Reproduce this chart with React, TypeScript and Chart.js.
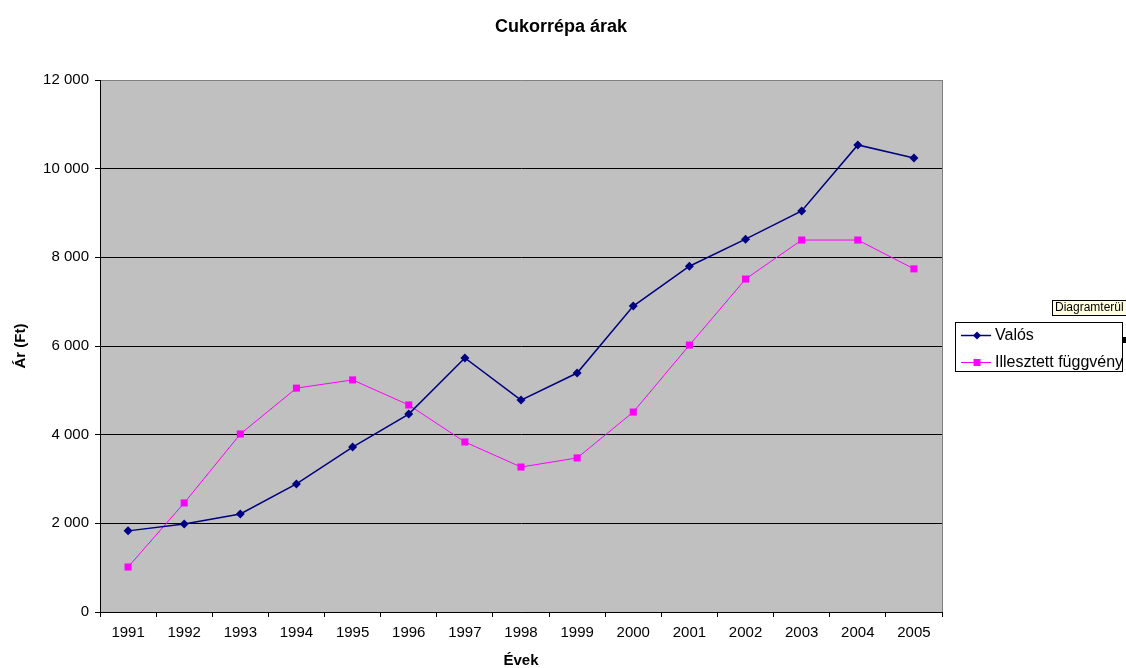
import { useEffect, useRef } from "react";
import { Chart, registerables } from "chart.js";

Chart.register(...registerables);

const years = ["1991", "1992", "1993", "1994", "1995", "1996", "1997", "1998", "1999", "2000", "2001", "2002", "2003", "2004", "2005"];
const valos = [1830, 1985, 2210, 2890, 3720, 4465, 5730, 4780, 5390, 6900, 7800, 8410, 9045, 10535, 10240];
const illesztett = [1015, 2460, 4015, 5050, 5235, 4670, 3835, 3270, 3475, 4510, 6020, 7510, 8390, 8390, 7740];
const seriesNames = ["Valós", "Illesztett függvény"];
const chartTitle = "Cukorrépa árak";
const xTitle = "Évek";
const yTitle = "Ár (Ft)";
const tooltipText = "Diagramterül";
const yMin = 0;
const yMax = 12000;
const yStep = 2000;

const FONT = "'Liberation Sans', Arial, sans-serif";
const NAVY = "#000080";
const MAGENTA = "#ff00ff";

function fmt(v: number): string {
  return String(v).replace(/\B(?=(\d{3})+(?!\d))/g, " ");
}

const decor = {
  id: "excelDecor",
  beforeDraw(chart: any) {
    const { ctx, chartArea: a } = chart;
    ctx.save();
    ctx.fillStyle = "#c0c0c0";
    ctx.fillRect(a.left, a.top, a.right - a.left, a.bottom - a.top);
    ctx.restore();
  },
  afterDraw(chart: any) {
    const { ctx, chartArea: a } = chart;
    ctx.save();
    // chart title, centred on the whole canvas
    ctx.fillStyle = "#000";
    ctx.font = `bold 18px ${FONT}`;
    ctx.textAlign = "center";
    ctx.textBaseline = "middle";
    ctx.fillText(chartTitle, 561, 27);

    // right border of plot area
    ctx.strokeStyle = "#808080";
    ctx.lineWidth = 1;
    ctx.beginPath();
    ctx.moveTo(Math.round(a.right) + 0.5, a.top);
    ctx.lineTo(Math.round(a.right) + 0.5, a.bottom);
    ctx.stroke();

    // legend box
    const bx = 955, by = 322, bw = 167, bh = 49;
    ctx.fillStyle = "#ffffff";
    ctx.fillRect(bx, by, bw, bh);
    ctx.strokeStyle = "#000000";
    ctx.strokeRect(bx + 0.5, by + 0.5, bw, bh);
    ctx.save();
    ctx.beginPath();
    ctx.rect(bx, by, bw, bh);
    ctx.clip();
    const rows = [
      { y: 335, color: NAVY, shape: "diamond", w: 1.5 },
      { y: 362, color: MAGENTA, shape: "square", w: 1 },
    ];
    rows.forEach((r, i) => {
      ctx.strokeStyle = r.color;
      ctx.lineWidth = r.w;
      ctx.beginPath();
      ctx.moveTo(961, r.y + 0.5);
      ctx.lineTo(991, r.y + 0.5);
      ctx.stroke();
      ctx.fillStyle = r.color;
      const cx = 977, cy = r.y + 0.5;
      if (r.shape === "diamond") {
        ctx.beginPath();
        ctx.moveTo(cx, cy - 4);
        ctx.lineTo(cx + 4, cy);
        ctx.lineTo(cx, cy + 4);
        ctx.lineTo(cx - 4, cy);
        ctx.closePath();
        ctx.fill();
      } else {
        ctx.fillRect(cx - 3.5, cy - 3.5, 7, 7);
      }
      ctx.fillStyle = "#000";
      ctx.font = `16px ${FONT}`;
      ctx.textBaseline = "middle";
      ctx.textAlign = "left";
      ctx.fillText(seriesNames[i], 995, r.y + 0.5);
    });
    ctx.restore();

    // tooltip
    ctx.fillStyle = "#ffffe1";
    ctx.fillRect(1052, 300, 80, 15);
    ctx.strokeStyle = "#000";
    ctx.lineWidth = 1;
    ctx.strokeRect(1052.5, 300.5, 80, 15);
    ctx.fillStyle = "#000";
    ctx.font = `12px ${FONT}`;
    ctx.textBaseline = "middle";
    ctx.textAlign = "left";
    ctx.fillText(tooltipText, 1055, 308);

    // small handle square
    ctx.fillStyle = "#000";
    ctx.fillRect(1122, 337, 4, 6);
    ctx.restore();
  },
};

export default function App() {
  const ref = useRef<HTMLCanvasElement | null>(null);
  useEffect(() => {
    if (!ref.current) return;
    const chart = new Chart(ref.current, {
      type: "line",
      data: {
        labels: years,
        datasets: [
          {
            label: seriesNames[0],
            data: valos,
            borderColor: NAVY,
            backgroundColor: NAVY,
            borderWidth: 1.5,
            pointStyle: "rectRot",
            pointRadius: 4.5,
            pointBorderWidth: 0,
            tension: 0,
          },
          {
            label: seriesNames[1],
            data: illesztett,
            borderColor: MAGENTA,
            backgroundColor: MAGENTA,
            borderWidth: 1,
            pointStyle: "rect",
            pointRadius: 5,
            pointBorderWidth: 0,
            tension: 0,
          },
        ],
      },
      options: {
        responsive: false,
        animation: false,
        layout: { padding: { left: 0, right: 184, top: 80, bottom: 0 } },
        plugins: {
          legend: { display: false },
          tooltip: { enabled: false },
          title: { display: false },
        },
        scales: {
          x: {
            type: "category",
            offset: true,
            grid: {
              offset: true,
              drawOnChartArea: false,
              drawTicks: true,
              tickLength: 5,
              color: "#000",
            },
            border: { display: true, color: "#000" },
            ticks: {
              color: "#000",
              font: { family: FONT, size: 15 },
              padding: 7,
              maxRotation: 0,
              autoSkip: false,
            },
            title: {
              display: true,
              text: xTitle,
              color: "#000",
              font: { family: FONT, size: 15, weight: "bold", lineHeight: 1 },
              padding: { top: 0, bottom: 0 },
            },
            afterFit: (s: any) => {
              s.height = 56;
            },
          },
          y: {
            min: yMin,
            max: yMax,
            ticks: {
              stepSize: yStep,
              color: "#000",
              font: { family: FONT, size: 15 },
              padding: 6,
              callback: (v: any) => fmt(Number(v)),
            },
            grid: {
              color: (c: any) => (c.tick && c.tick.value === yMax ? "#808080" : "#000"),
              tickColor: "#000",
              tickLength: 5,
              lineWidth: 1,
            },
            border: { display: true, color: "#000" },
            title: {
              display: true,
              text: yTitle,
              color: "#000",
              font: { family: FONT, size: 15, weight: "bold" },
              padding: { top: 12, bottom: 0 },
            },
            afterFit: (s: any) => {
              s.width = 100;
            },
          },
        },
      },
      plugins: [decor],
    } as any);
    return () => chart.destroy();
  }, []);
  return (
    <div style={{ position: "absolute", left: 0, top: 0, width: 1126, height: 668, background: "#fff" }}>
      <canvas ref={ref} width={1126} height={668} style={{ display: "block" }} />
    </div>
  );
}
